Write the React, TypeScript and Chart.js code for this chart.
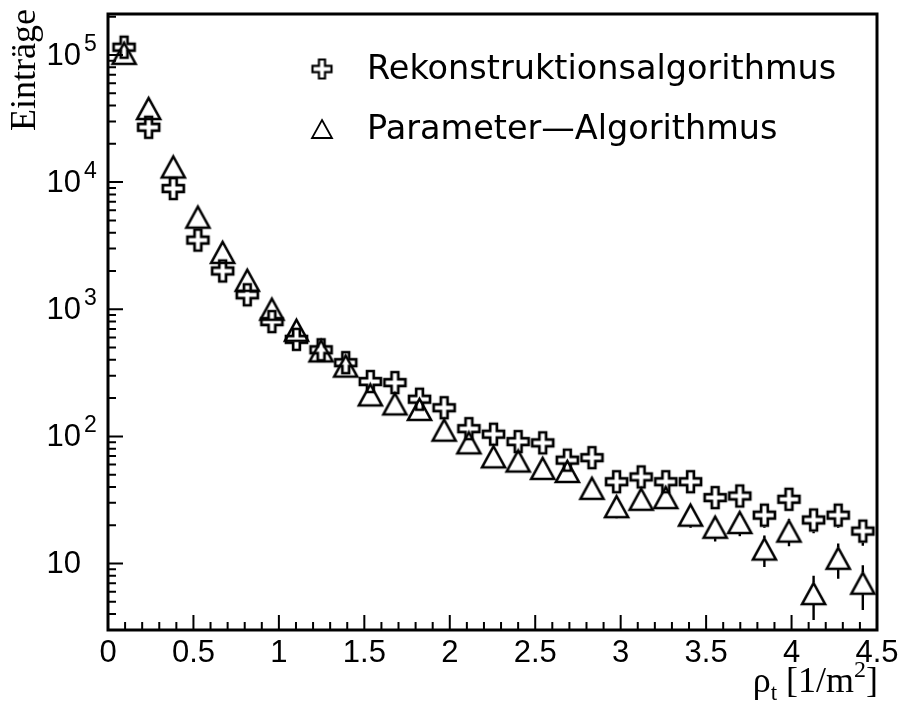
import React, { useEffect, useRef } from 'react';
import { Chart, registerables } from 'chart.js';

Chart.register(...registerables);

// Bin centres of the transverse density rho_t [1/m^2]
const rhoBins = [
  0.094, 0.238, 0.382, 0.526, 0.671, 0.815, 0.959, 1.103, 1.247, 1.391, 1.535,
  1.679, 1.823, 1.967, 2.112, 2.256, 2.4, 2.544, 2.688, 2.832, 2.976, 3.12,
  3.264, 3.409, 3.553, 3.697, 3.841, 3.985, 4.129, 4.273, 4.417,
];

// Entries per bin, reconstruction algorithm
const rekoCounts = [
  115000, 27000, 8900, 3500, 2000, 1300, 800, 580, 480, 380, 270,
  265, 196, 168, 115, 104, 91, 89, 65, 68, 44, 48,
  44, 44, 33, 34, 24, 32, 22, 24, 18,
];
const rekoErrors = [
  340, 165, 94, 59, 45, 36, 28, 24, 22, 19.5, 16.4,
  16.3, 14, 13, 10.7, 10.2, 9.5, 9.4, 8.1, 8.2, 6.6, 6.9,
  6.6, 6.6, 5.7, 5.8, 4.9, 5.7, 4.7, 4.9, 4.2,
];

// Entries per bin, parameter algorithm
const paramCounts = [
  103000, 37900, 13150, 5300, 2800, 1690, 1000, 683, 470, 357, 212,
  180, 163, 112, 89, 69, 64, 56, 53, 39, 28, 32,
  33, 24, 19.3, 21, 13, 18, 5.8, 11, 7,
];
const paramErrors = [
  320, 195, 115, 73, 53, 41, 32, 26, 22, 19, 14.6,
  13.4, 12.8, 10.6, 9.4, 8.3, 8, 7.5, 7.3, 6.2, 5.3, 5.7,
  5.7, 4.9, 4.4, 4.6, 3.6, 4.3, 2.2, 3.4, 2.7,
];

const seriesLabels = ['Rekonstruktionsalgorithmus', 'Parameter\u2014Algorithmus'];

const xTickValues = [0, 0.5, 1, 1.5, 2, 2.5, 3, 3.5, 4, 4.5];
const xTickLabels = ['0', '0.5', '1', '1.5', '2', '2.5', '3', '3.5', '4', '4.5'];
const yDecadeValues = [10, 100, 1000, 10000, 100000];
const yDecadeExponents = ['', '2', '3', '4', '5'];

const X_MIN = 0;
const X_MAX = 4.5;
const Y_MIN = 3;
const Y_MAX = 2.1e5;

const SANS = '"Liberation Sans", Arial, sans-serif';
const LEGEND_FONT = '"DejaVu Sans", sans-serif';
const SERIF = '"Liberation Serif", "Times New Roman", serif';

function makeCross(size: number, lw: number): HTMLCanvasElement {
  const pad = Math.ceil(lw) + 1;
  const c = document.createElement('canvas');
  c.width = size + 2 * pad;
  c.height = size + 2 * pad;
  const ctx = c.getContext('2d')!;
  const a = size * 0.34;
  const b = size - a;
  const s = size;
  ctx.translate(pad, pad);
  ctx.beginPath();
  ctx.moveTo(a, 0);
  ctx.lineTo(b, 0);
  ctx.lineTo(b, a);
  ctx.lineTo(s, a);
  ctx.lineTo(s, b);
  ctx.lineTo(b, b);
  ctx.lineTo(b, s);
  ctx.lineTo(a, s);
  ctx.lineTo(a, b);
  ctx.lineTo(0, b);
  ctx.lineTo(0, a);
  ctx.lineTo(a, a);
  ctx.closePath();
  ctx.lineWidth = lw;
  ctx.lineJoin = 'miter';
  ctx.strokeStyle = '#000';
  ctx.stroke();
  return c;
}

function makeTriangle(w: number, h: number, lw: number): HTMLCanvasElement {
  const pad = Math.ceil(lw) + 1;
  const c = document.createElement('canvas');
  c.width = w + 2 * pad;
  c.height = h + 2 * pad;
  const ctx = c.getContext('2d')!;
  ctx.translate(pad, pad);
  ctx.beginPath();
  ctx.moveTo(w / 2, 0);
  ctx.lineTo(w, h);
  ctx.lineTo(0, h);
  ctx.closePath();
  ctx.lineWidth = lw;
  ctx.lineJoin = 'miter';
  ctx.strokeStyle = '#000';
  ctx.stroke();
  return c;
}

export default function App() {
  const canvasRef = useRef<HTMLCanvasElement | null>(null);

  useEffect(() => {
    const canvas = canvasRef.current;
    if (!canvas) return;

    const crossImg = makeCross(21, 2.7);
    const triImg = makeTriangle(23, 21, 2.6);
    const crossLegend = makeCross(19, 2.2);
    const triLegend = makeTriangle(20, 18, 1.8);
    const halfHeights = [11.5, 11];
    const errorSets = [rekoErrors, paramErrors];

    const errorBars = {
      id: 'errorBars',
      afterDatasetsDraw(chart: any) {
        const { ctx, scales } = chart;
        const y = scales.y;
        ctx.save();
        ctx.strokeStyle = '#000';
        ctx.lineWidth = 2.4;
        chart.data.datasets.forEach((ds: any, di: number) => {
          const meta = chart.getDatasetMeta(di);
          const errs = errorSets[di];
          meta.data.forEach((pt: any, i: number) => {
            const v = ds.data[i].y;
            const e = errs[i];
            const cy = pt.y;
            const top = y.getPixelForValue(v + e);
            const bot = y.getPixelForValue(Math.max(v - e, Y_MIN * 0.5));
            const hh = halfHeights[di];
            ctx.beginPath();
            if (top < cy - hh) {
              ctx.moveTo(pt.x, cy - hh);
              ctx.lineTo(pt.x, top);
            }
            if (bot > cy + hh) {
              ctx.moveTo(pt.x, cy + hh);
              ctx.lineTo(pt.x, Math.min(bot, chart.chartArea.bottom));
            }
            ctx.stroke();
          });
        });
        ctx.restore();
      },
    };

    const frame = {
      id: 'frameAndLabels',
      afterDraw(chart: any) {
        const { ctx, chartArea: ca, scales } = chart;
        const xs = scales.x;
        const ys = scales.y;
        ctx.save();
        ctx.strokeStyle = '#000';
        ctx.fillStyle = '#000';

        // inward ticks on the x axis
        ctx.lineWidth = 2;
        ctx.beginPath();
        for (let i = 1; i < 45; i++) {
          const v = i / 10;
          const px = xs.getPixelForValue(v);
          const len = i % 5 === 0 ? 15 : 8;
          ctx.moveTo(px, ca.bottom);
          ctx.lineTo(px, ca.bottom - len);
        }
        // inward ticks on the y axis
        for (let d = 0; d <= 5; d++) {
          for (let m = 1; m <= 9; m++) {
            const v = m * Math.pow(10, d);
            if (v < Y_MIN || v > Y_MAX) continue;
            const py = ys.getPixelForValue(v);
            const len = m === 1 ? 15 : 8;
            ctx.moveTo(ca.left, py);
            ctx.lineTo(ca.left + len, py);
          }
        }
        ctx.stroke();

        // frame
        ctx.lineWidth = 3;
        ctx.strokeRect(ca.left, ca.top, ca.right - ca.left, ca.bottom - ca.top);

        // x tick labels
        ctx.font = `31px ${SANS}`;
        ctx.textAlign = 'center';
        ctx.textBaseline = 'top';
        xTickValues.forEach((v, i) => {
          ctx.fillText(xTickLabels[i], xs.getPixelForValue(v), ca.bottom + 8);
        });

        // y tick labels: 10 with raised exponent
        yDecadeValues.forEach((v, i) => {
          const py = ys.getPixelForValue(v);
          ctx.font = `31px ${SANS}`;
          ctx.textAlign = 'right';
          ctx.textBaseline = 'middle';
          ctx.fillText('10', 81, py + 1);
          if (yDecadeExponents[i]) {
            ctx.font = `23px ${SANS}`;
            ctx.textAlign = 'left';
            ctx.textBaseline = 'alphabetic';
            ctx.fillText(yDecadeExponents[i], 84, py - 4);
          }
        });

        // y axis title
        ctx.save();
        ctx.translate(35, 131);
        ctx.rotate(-Math.PI / 2);
        ctx.font = `36px ${SERIF}`;
        ctx.textAlign = 'left';
        ctx.textBaseline = 'alphabetic';
        ctx.fillText('Eintr\u00e4ge', 0, 0);
        ctx.restore();

        // x axis title: rho_t [1/m^2]
        const parts: [string, number, number][] = [
          ['\u03c1', 36, 0],
          ['t', 23, 8],
          [' [1/m', 36, 0],
          ['2', 24, -15],
          [']', 36, 0],
        ];
        let total = 0;
        parts.forEach(([t, s]) => {
          ctx.font = `${s}px ${SERIF}`;
          total += ctx.measureText(t).width;
        });
        let px = ca.right + 1 - total;
        const base = 692;
        ctx.textAlign = 'left';
        ctx.textBaseline = 'alphabetic';
        parts.forEach(([t, s, dy]) => {
          ctx.font = `${s}px ${SERIF}`;
          ctx.fillText(t, px, base + dy);
          px += ctx.measureText(t).width;
        });

        // legend
        const legendImgs = [crossLegend, triLegend];
        const rowsY = [69, 129];
        ctx.font = `33.5px ${LEGEND_FONT}`;
        ctx.textAlign = 'left';
        ctx.textBaseline = 'middle';
        chart.data.datasets.forEach((ds: any, i: number) => {
          const img = legendImgs[i];
          ctx.drawImage(img, 322 - img.width / 2, rowsY[i] - img.height / 2);
          ctx.fillText(ds.label, 367, rowsY[i] + 1);
        });

        ctx.restore();
      },
    };

    const chart = new Chart(canvas, {
      type: 'scatter',
      data: {
        datasets: [
          {
            label: seriesLabels[0],
            data: rhoBins.map((x, i) => ({ x, y: rekoCounts[i] })),
            pointStyle: crossImg,
            pointRadius: 11,
            clip: false,
          },
          {
            label: seriesLabels[1],
            data: rhoBins.map((x, i) => ({ x, y: paramCounts[i] })),
            pointStyle: triImg,
            pointRadius: 11,
            clip: false,
          },
        ],
      },
      options: {
        responsive: false,
        animation: false,
        devicePixelRatio: 1,
        layout: { padding: { left: 108, right: 23, top: 14, bottom: 78 } },
        plugins: {
          legend: { display: false },
          tooltip: { enabled: false },
          title: { display: false },
        },
        scales: {
          x: { type: 'linear', min: X_MIN, max: X_MAX, display: false },
          y: { type: 'logarithmic', min: Y_MIN, max: Y_MAX, display: false },
        },
      },
      plugins: [errorBars, frame],
    });

    return () => chart.destroy();
  }, []);

  return (
    <div style={{ position: 'absolute', left: 0, top: 0, width: 900, height: 708, background: '#fff' }}>
      <canvas ref={canvasRef} width={900} height={708} />
    </div>
  );
}
